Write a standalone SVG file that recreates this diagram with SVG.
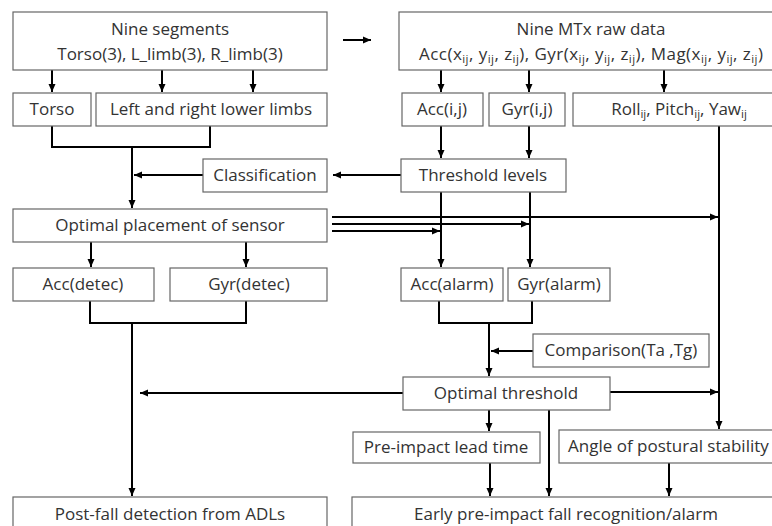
<svg xmlns="http://www.w3.org/2000/svg" width="772" height="526" viewBox="0 0 772 526">
<defs>
<marker id="ah" viewBox="0 0 8 8" refX="8" refY="4" markerWidth="8" markerHeight="8" markerUnits="userSpaceOnUse" orient="auto">
<path d="M0,0.5 L8,4 L0,7.5 z" fill="#000"/>
</marker>
<style>
.b{fill:#fff;stroke:#666;stroke-width:1.2}
.t{font-family:"Open Sans","Noto Sans",sans-serif;font-size:17px;fill:#333;text-anchor:middle}
.s{font-size:11.5px}
.c{fill:none;stroke:#000;stroke-width:2}
.a{marker-end:url(#ah)}
</style>
</defs>
<rect width="772" height="526" fill="#fff"/>
<g id="connectors">
<path class="c a" d="M343,40H371"/>
<path class="c a" d="M52,70V92"/>
<path class="c a" d="M162,70V92"/>
<path class="c a" d="M253,70V92"/>
<path class="c a" d="M441,70V92"/>
<path class="c a" d="M529,70V92"/>
<path class="c a" d="M664,70V92"/>
<path class="c" d="M52,126V147H210V126"/>
<path class="c a" d="M132,147V208"/>
<path class="c a" d="M203,175H134"/>
<path class="c a" d="M401,175H333"/>
<path class="c a" d="M441,126V158"/>
<path class="c a" d="M529,126V158"/>
<path class="c a" d="M441,192V267"/>
<path class="c a" d="M530,192V267"/>
<path class="c a" d="M332,217H718"/>
<path class="c a" d="M332,224H529"/>
<path class="c a" d="M332,231H440"/>
<path class="c a" d="M719,126V429"/>
<path class="c a" d="M91,242V267"/>
<path class="c a" d="M246,242V267"/>
<path class="c" d="M90,301V323H246V301"/>
<path class="c a" d="M132,323V496"/>
<path class="c a" d="M403,393H140"/>
<path class="c" d="M439,301V323H532V301"/>
<path class="c a" d="M489,323V376"/>
<path class="c a" d="M533,351H491"/>
<path class="c a" d="M610,392H718"/>
<path class="c a" d="M489,410V431"/>
<path class="c a" d="M549,410V496"/>
<path class="c a" d="M490,463V496"/>
<path class="c a" d="M669,463V496"/>
</g>
<g id="seg"><rect class="b" x="13" y="12" width="314" height="58"/>
<text class="t" x="170" y="35">Nine segments</text>
<text class="t" x="170" y="60">Torso(3),  L_limb(3), R_limb(3)</text></g>
<g id="mtx"><rect class="b" x="399" y="12" width="386" height="58"/>
<text class="t" x="591" y="35">Nine MTx raw data</text>
<text class="t" x="419" y="60" style="text-anchor:start" textLength="344" lengthAdjust="spacing">Acc(x<tspan class="s" dy="3">ij</tspan><tspan dy="-3">,  y</tspan><tspan class="s" dy="3">ij</tspan><tspan dy="-3">, z</tspan><tspan class="s" dy="3">ij</tspan><tspan dy="-3">), Gyr(x</tspan><tspan class="s" dy="3">ij</tspan><tspan dy="-3">,  y</tspan><tspan class="s" dy="3">ij</tspan><tspan dy="-3">, z</tspan><tspan class="s" dy="3">ij</tspan><tspan dy="-3">), Mag(x</tspan><tspan class="s" dy="3">ij</tspan><tspan dy="-3">,  y</tspan><tspan class="s" dy="3">ij</tspan><tspan dy="-3">,  z</tspan><tspan class="s" dy="3">ij</tspan><tspan dy="-3">)</tspan></text></g>
<g id="torso"><rect class="b" x="13" y="93" width="78" height="33"/><text class="t" x="52" y="115">Torso</text></g>
<g id="limbs"><rect class="b" x="96" y="93" width="231" height="33"/><text class="t" x="211" y="115">Left and right lower limbs</text></g>
<g id="accij"><rect class="b" x="402" y="93" width="81" height="33"/><text class="t" x="442" y="115">Acc(i,j)</text></g>
<g id="gyrij"><rect class="b" x="489" y="93" width="76" height="33"/><text class="t" x="527" y="115">Gyr(i,j)</text></g>
<g id="rpy"><rect class="b" x="573" y="93" width="212" height="33"/>
<text class="t" x="679" y="115">Roll<tspan class="s" dy="3">ij</tspan><tspan dy="-3">, Pitch</tspan><tspan class="s" dy="3">ij</tspan><tspan dy="-3">, Yaw</tspan><tspan class="s" dy="3">ij</tspan></text></g>
<g id="classification"><rect class="b" x="203" y="159" width="124" height="33"/><text class="t" x="265" y="181">Classification</text></g>
<g id="threshold"><rect class="b" x="401" y="159" width="165" height="33"/><text class="t" x="483" y="181">Threshold  levels</text></g>
<g id="placement"><rect class="b" x="13" y="209" width="314" height="33"/><text class="t" x="170" y="231">Optimal placement  of sensor</text></g>
<g id="accdetec"><rect class="b" x="13" y="268" width="141" height="33"/><text class="t" x="83" y="290">Acc(detec)</text></g>
<g id="gyrdetec"><rect class="b" x="170" y="268" width="157" height="33"/><text class="t" x="249" y="290">Gyr(detec)</text></g>
<g id="accalarm"><rect class="b" x="401" y="268" width="102" height="33"/><text class="t" x="452" y="290">Acc(alarm)</text></g>
<g id="gyralarm"><rect class="b" x="508" y="268" width="102" height="33"/><text class="t" x="559" y="290">Gyr(alarm)</text></g>
<g id="comparison"><rect class="b" x="533" y="334" width="176" height="33"/><text class="t" x="621" y="356">Comparison(Ta  ,Tg)</text></g>
<g id="optthr"><rect class="b" x="403" y="377" width="207" height="33"/><text class="t" x="506" y="399">Optimal threshold</text></g>
<g id="preimpact"><rect class="b" x="353" y="432" width="187" height="31"/><text class="t" x="446" y="453">Pre-impact  lead time</text></g>
<g id="angle"><rect class="b" x="559" y="430" width="226" height="33"/><text class="t" x="568" y="452" style="text-anchor:start">Angle of postural stability</text></g>
<g id="postfall"><rect class="b" x="13" y="497" width="314" height="40"/><text class="t" x="170" y="520">Post-fall detection  from ADLs</text></g>
<g id="early"><rect class="b" x="352" y="497" width="433" height="40"/><text class="t" x="566" y="520">Early pre-impact  fall recognition/alarm</text></g>
</svg>
